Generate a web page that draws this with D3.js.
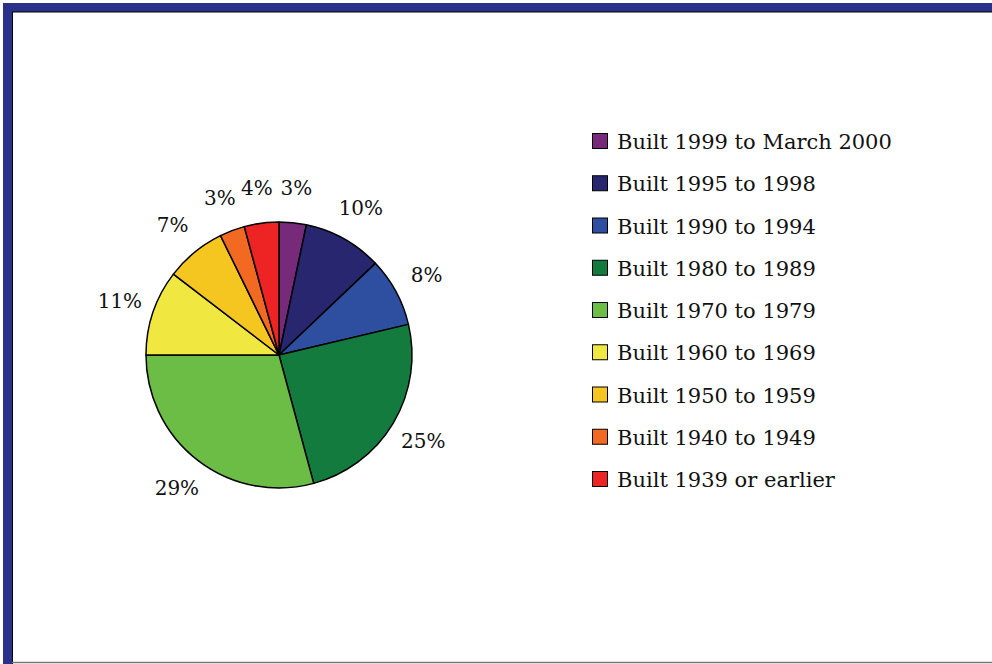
<!DOCTYPE html>
<html>
<head>
<meta charset="utf-8">
<script src="https://cdn.jsdelivr.net/npm/d3@7"></script>
<style>
  body { margin: 0; background: #fff; }
  svg { display: block; }
</style>
</head>
<body>
<div id="myVis"></div>
<script>
// housing age pie with legend on the right

var width = 992;
var height = 664;

var categories = [
  "Built 1999 to March 2000",
  "Built 1995 to 1998",
  "Built 1990 to 1994",
  "Built 1980 to 1989",
  "Built 1970 to 1979",
  "Built 1960 to 1969",
  "Built 1950 to 1959",
  "Built 1940 to 1949",
  "Built 1939 or earlier"
];
// share of the pie
var shares = [3.3, 9.6, 8.4, 24.5, 29.2, 10.4, 7.35, 3.05, 4.2];
// printed labels
var labels = ["3%", "10%", "8%", "25%", "29%", "11%", "7%", "3%", "4%"];
var colors = ["#772a7a", "#27266f", "#2e4fa0", "#137b3d", "#6cbd45",
              "#f0e840", "#f5c520", "#f26a21", "#ee2424"];

var cx = 279, cy = 355, r = 133;
var font = "'DejaVu Serif', 'Liberation Serif', serif";

var svg = d3.select("#myVis")
  .append("svg")
  .attr("width", width)
  .attr("height", height);

// frame
svg.append("rect").attr("x", 0).attr("y", 0).attr("width", width).attr("height", height).attr("fill", "#fff");
svg.append("rect").attr("x", 3).attr("y", 3).attr("width", width - 3).attr("height", 9).attr("fill", "#2b3188");
svg.append("rect").attr("x", 3).attr("y", 3).attr("width", 9).attr("height", height - 3).attr("fill", "#2b3188");
svg.append("line").attr("x1", 12.5).attr("y1", 12).attr("x2", 12.5).attr("y2", height).attr("stroke", "#000").attr("stroke-width", 1);
svg.append("line").attr("x1", 12).attr("y1", 12).attr("x2", width).attr("y2", 12).attr("stroke", "#000").attr("stroke-width", 1);
svg.append("line").attr("x1", 12).attr("y1", 662.5).attr("x2", width).attr("y2", 662.5).attr("stroke", "#777").attr("stroke-width", 1.5);

var pie = d3.pie().sort(null).value(function(d) { return d; });
var arcs = pie(shares);

var arc = d3.arc().innerRadius(0).outerRadius(r);
var labelArc = d3.arc().innerRadius(168).outerRadius(168);

var g = svg.append("g").attr("transform", "translate(" + cx + "," + cy + ")");

g.selectAll("path")
  .data(arcs)
  .enter()
  .append("path")
  .attr("d", arc)
  .attr("fill", function(d, i) { return colors[i]; })
  .attr("stroke", "#000")
  .attr("stroke-width", 1.5)
  .attr("stroke-linejoin", "round");

g.selectAll("text")
  .data(arcs)
  .enter()
  .append("text")
  .attr("x", function(d) { return labelArc.centroid(d)[0]; })
  .attr("y", function(d) { return labelArc.centroid(d)[1]; })
  .attr("text-anchor", "middle")
  .attr("dominant-baseline", "central")
  .attr("font-family", font)
  .attr("font-size", 20)
  .attr("fill", "#111")
  .text(function(d, i) { return labels[i]; });

// legend
var legY = d3.scalePoint().domain(categories).range([141, 479]);

var leg = svg.append("g");
var rows = leg.selectAll("g")
  .data(categories)
  .enter()
  .append("g")
  .attr("transform", function(d) { return "translate(592," + legY(d) + ")"; });

rows.append("rect")
  .attr("x", 0.5)
  .attr("y", -7.5)
  .attr("width", 15)
  .attr("height", 15)
  .attr("fill", function(d, i) { return colors[i]; })
  .attr("stroke", "#000")
  .attr("stroke-width", 1);

rows.append("text")
  .attr("x", 25)
  .attr("y", 8)
  .attr("font-family", font)
  .attr("font-size", 21)
  .attr("fill", "#111")
  .text(function(d) { return d; });
</script>
</body>
</html>
